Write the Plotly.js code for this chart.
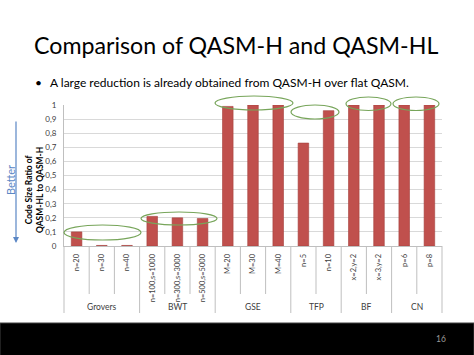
<!DOCTYPE html>
<html><head><meta charset="utf-8">
<script src="https://cdn.plot.ly/plotly-3.0.1.min.js"></script>
<style>html,body{margin:0;padding:0;background:#fff}#chart{width:474px;height:355px}</style>
</head><body><div id="chart"></div>
<script>
var categories = ['n=20','n=30','n=40','n=100,s=1000','n=300,s=3000','n=500,s=5000','M=20','M=30','M=40','n=5','n=10','x=2,y=2','x=3,y=2','p=6','p=8'];
var ratios = [0.1, 0.004, 0.004, 0.21, 0.2, 0.195, 0.99, 1.0, 1.0, 0.73, 0.96, 1.0, 1.0, 1.0, 1.0];
var groups = ['Grovers','BWT','GSE','TFP','BF','CN'];
var groupSizes = [3, 3, 3, 2, 2, 2];
var yTicks = [0, 0.1, 0.2, 0.3, 0.4, 0.5, 0.6, 0.7, 0.8, 0.9, 1];

var L = 64, T = 105, W = 378, H = 141;
function px(x){ return (x - L) / W; }
function py(y){ return (T + H - y) / H; }

var shapes = [];
var annotations = [];
var grey = '#bfbfbf';
var font = 'Lato, Open Sans, sans-serif';
// dividers
var start = 0;
groupSizes.forEach(function(n, gi){
  for (var k = 1; k < n; k++) {
    shapes.push({type:'line', xref:'x', yref:'paper', x0:start+k-0.5, x1:start+k-0.5, y0:0, y1:py(294), line:{color:grey,width:1}});
  }
  if (gi > 0) shapes.push({type:'line', xref:'x', yref:'paper', x0:start-0.5, x1:start-0.5, y0:0, y1:py(313), line:{color:grey,width:1}});
  annotations.push({xref:'x', yref:'paper', x:start+(n-1)/2, y:py(307), xanchor:'center', yanchor:'middle', text:groups[gi], showarrow:false, font:{family:font, size:8.5, color:'#404040'}});
  start += n;
});
shapes.push({type:'line', xref:'x domain', yref:'paper', x0:0, x1:0, y0:0, y1:py(313), line:{color:grey,width:1}});
shapes.push({type:'line', xref:'x domain', yref:'paper', x0:1, x1:1, y0:0, y1:py(313), line:{color:grey,width:1}});

// ellipses
var ell = [[64,141,225,240],[141,217,212,225],[215,293,96,110],[291,339,105,119],[346,391,97,110.5],[393,439,97,110.5]];
ell.forEach(function(e){
  shapes.push({type:'circle', xref:'paper', yref:'paper', x0:px(e[0]), x1:px(e[1]), y0:py(e[2]), y1:py(e[3]), line:{color:'#77a55a', width:1.2}, layer:'above'});
});
// black footer band
shapes.push({type:'rect', xref:'paper', yref:'paper', x0:px(0), x1:px(474), y0:py(323), y1:py(356), fillcolor:'#000', line:{color:'#404040', width:1}, layer:'above'});

annotations.push({xref:'paper', yref:'paper', x:px(32), y:py(45), xanchor:'left', yanchor:'middle', text:'Comparison of QASM-H and QASM-HL', showarrow:false, font:{family:font, size:23.2, color:'#000'}});
annotations.push({xref:'paper', yref:'paper', x:px(33), y:py(82), xanchor:'left', yanchor:'middle', text:'•', showarrow:false, font:{family:font, size:12, color:'#000'}});
annotations.push({xref:'paper', yref:'paper', x:px(48), y:py(82), xanchor:'left', yanchor:'middle', text:'A large reduction is already obtained from QASM-H over flat QASM.', showarrow:false, font:{family:font, size:12, color:'#000'}});
annotations.push({xref:'paper', yref:'paper', x:px(34), y:py(190), xanchor:'center', yanchor:'middle', textangle:-90, text:'<b>Code Size Ratio of<br>QASM-HL to QASM-H</b>', showarrow:false, font:{family:font, size:8.5, color:'#000'}});
annotations.push({xref:'paper', yref:'paper', x:px(10), y:py(180), xanchor:'center', yanchor:'middle', textangle:-90, text:'Better', showarrow:false, font:{family:font, size:11, color:'#5b87c5'}});
annotations.push({xref:'paper', yref:'paper', x:px(16), y:py(243), axref:'pixel', ayref:'pixel', ax:0, ay:-123, text:'', showarrow:true, arrowhead:2, arrowsize:1, arrowwidth:1.2, arrowcolor:'#5b87c5'});
annotations.push({xref:'paper', yref:'paper', x:px(441), y:py(339), xanchor:'center', yanchor:'middle', text:'16', showarrow:false, font:{family:font, size:8.5, color:'#999'}});

var trace = {type:'bar', x:categories, y:ratios, marker:{color:'#c0504d', line:{color:'#a5403d', width:0.6}}, hoverinfo:'skip'};

var layout = {
  width:474, height:355, margin:{l:L, r:474-L-W, t:T, b:355-T-H},
  paper_bgcolor:'#fff', plot_bgcolor:'#fff', showlegend:false, bargap:0.58,
  xaxis:{type:'category', tickangle:-90, showline:true, linecolor:grey, linewidth:1, showgrid:false, ticks:'', ticklabelstandoff:4, tickfont:{family:font, size:7.5, color:'#404040'}},
  yaxis:{range:[0,1], tickvals:yTicks, ticktext:yTicks.map(function(v){return String(v).replace('.',',');}), showline:true, linecolor:grey, linewidth:1, gridcolor:'#d9d9d9', zeroline:false, ticks:'', ticklabelstandoff:5, tickfont:{family:font, size:8, color:'#404040'}},
  shapes:shapes, annotations:annotations
};
Plotly.newPlot('chart', [trace], layout, {displayModeBar:false, staticPlot:true});
</script></body></html>
